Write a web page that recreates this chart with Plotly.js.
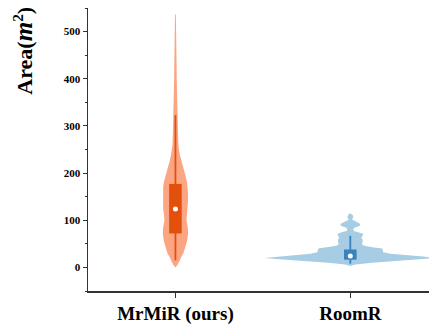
<!DOCTYPE html>
<html>
<head>
<meta charset="utf-8">
<script src="https://cdn.plot.ly/plotly-3.0.1.min.js"></script>
<style>html,body{margin:0;padding:0;background:#fff;}#chart{width:429px;height:327px;}</style>
</head>
<body>
<div id="chart"></div>
<script>
// ---- data ----
const categories = ['MrMiR (ours)', 'RoomR'];

// violin outlines: area value and half-width density reading
const mrmirArea    = [0, 5, 15, 21, 30, 43, 55, 72, 85, 100, 112, 125, 140, 157, 170, 179, 195, 206, 217, 228, 238, 250, 260, 290, 323, 355, 400, 440, 500, 536];
const mrmirDensity = [0, 2, 4.5, 5.5, 8, 9.8, 11.5, 12.7, 12.3, 11, 11.5, 12.3, 12.6, 12.5, 12.3, 11.8, 10, 8.5, 7, 5.5, 4.5, 3.5, 3, 2.5, 2, 1.6, 1.3, 1.1, 0.9, 0.4];

const roomrArea    = [3, 6, 10, 14, 17, 20, 23, 26, 29, 32, 36, 40, 43, 46, 49, 53, 56, 60, 63, 66, 69, 72, 75, 77, 81, 84, 86, 88.6, 92, 95, 97, 100, 102, 104, 107, 110, 113, 115];
const roomrDensity = [0, 5, 22, 45, 68, 86, 73, 55, 40, 33, 32.5, 32, 22, 14, 11.5, 12, 12.5, 12, 11, 12, 13, 12, 8, 3.5, 3, 4, 7, 9.5, 10, 7.5, 5, 2.5, 1.5, 2.5, 3, 2.7, 1.5, 0];

// box statistics
const q1           = [72, 16.4];
const medians      = [124, 24];
const q3           = [177, 38];
const lowerWhisker = [15, 8];
const upperWhisker = [323, 67];

// ---- styling ----
const violinColors = ['#fca582', '#a6cde3'];
const boxColors    = ['#e2500c', '#3a82bb'];
const DENS_SCALE = 1 / 175;   // density reading -> category units
const BOX_HALF = 0.036;

const areas = [mrmirArea, roomrArea];
const dens  = [mrmirDensity, roomrDensity];
const traces = [];

categories.forEach((c, i) => {
  const ys = areas[i], ds = dens[i];
  const x = [], y = [];
  for (let k = 0; k < ys.length; k++) { x.push(i + ds[k] * DENS_SCALE); y.push(ys[k]); }
  for (let k = ys.length - 1; k >= 0; k--) { x.push(i - ds[k] * DENS_SCALE); y.push(ys[k]); }
  traces.push({type: 'scatter', mode: 'lines', x, y, fill: 'toself', fillcolor: violinColors[i],
    line: {width: 0, color: violinColors[i]}, hoverinfo: 'skip', showlegend: false});
  // whisker
  traces.push({type: 'scatter', mode: 'lines', x: [i, i], y: [lowerWhisker[i], upperWhisker[i]],
    line: {width: 1.8, color: boxColors[i]}, showlegend: false, hoverinfo: 'skip'});
  // box
  traces.push({type: 'scatter', mode: 'lines',
    x: [i - BOX_HALF, i + BOX_HALF, i + BOX_HALF, i - BOX_HALF, i - BOX_HALF],
    y: [q1[i], q1[i], q3[i], q3[i], q1[i]],
    fill: 'toself', fillcolor: boxColors[i], line: {width: 0, color: boxColors[i]},
    showlegend: false, hoverinfo: 'skip'});
  // median
  traces.push({type: 'scatter', mode: 'markers', x: [i], y: [medians[i]],
    marker: {color: '#ffffff', size: 5}, showlegend: false});
});

const serif = 'Liberation Serif, Times New Roman, serif';
const layout = {
  width: 429, height: 327,
  margin: {l: 88, r: 0, t: 8, b: 36},
  paper_bgcolor: '#fff', plot_bgcolor: '#fff',
  showlegend: false,
  xaxis: {
    range: [-0.5, 1.45], tickvals: [0, 1], ticktext: categories,
    showgrid: false, zeroline: false, showline: true, linecolor: '#333', linewidth: 1.5,
    ticks: 'outside', ticklen: 5, tickcolor: '#333', tickwidth: 1,
    tickfont: {family: serif, size: 19, color: '#000', weight: 'bold'}
  },
  yaxis: {
    range: [-50, 550], tickvals: [0, 100, 200, 300, 400, 500],
    showgrid: false, zeroline: false, showline: true, linecolor: '#333', linewidth: 1.5,
    ticks: 'outside', ticklen: 4, tickcolor: '#333', tickwidth: 1,
    minor: {dtick: 50, ticks: 'outside', ticklen: 2, tickcolor: '#333', showgrid: false},
    tickfont: {family: serif, size: 11, color: '#000', weight: 'bold'}
  },
  annotations: [{
    text: 'Area(<i><span style="font-size:25px">m</span></i><sup>2</sup>)', textangle: -90, showarrow: false,
    xref: 'paper', yref: 'paper', x: -0.19, y: 0.85, xanchor: 'center', yanchor: 'middle',
    font: {family: serif, size: 22, color: '#000', weight: 'bold'}
  }]
};

Plotly.newPlot('chart', traces, layout, {displayModeBar: false, staticPlot: true});
</script>
</body>
</html>
